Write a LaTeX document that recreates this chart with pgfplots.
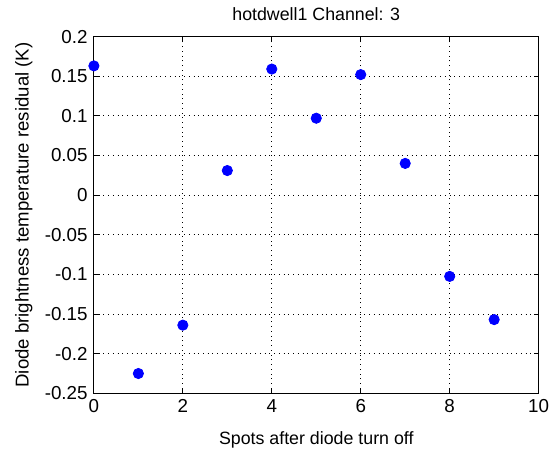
\documentclass[border=0pt]{standalone}
\usepackage{fontspec}
\setmainfont{Liberation Sans}
\usepackage{pgfplots}
\pgfplotsset{compat=1.18}

\begin{document}
\fontsize{9pt}{11pt}\selectfont
\begin{tikzpicture}
\begin{axis}[
    scale only axis,
    width=225pt, height=180.5pt,
    xmin=0, xmax=10, ymin=-0.25, ymax=0.2,
    xtick={0,2,...,10},
    ytick={-0.25,-0.2,-0.15,-0.1,-0.05,0,0.05,0.1,0.15,0.2},
    yticklabel style={/pgf/number format/fixed, /pgf/number format/precision=2},
    /pgf/number format/assume math mode=true,
    tick align=inside,
    major tick length=2.5pt,
    tick style={black, line width=0.4pt},
    axis line style={line width=0.6pt},
    grid=major,
    major grid style={black, dotted, line width=0.5pt},
    title={hotdwell1 Channel: 3},
    title style={yshift=-1pt},
    xlabel={Spots after diode turn off},
    ylabel={Diode brightness temperature residual (K)},
    xlabel style={yshift=-3pt},
    ylabel style={yshift=0pt, font=\fontsize{9.4pt}{11pt}\selectfont},
    tick label style={font=\fontsize{9.5pt}{11pt}\selectfont},
    title style={font=\fontsize{9pt}{11pt}\selectfont},
    xlabel style={font=\fontsize{9pt}{11pt}\selectfont},
]
\addplot[only marks, mark=*, mark size=2.6pt, color=blue, mark options={fill=blue, draw=blue}]
coordinates {
(0,0.163) (1,-0.225) (2,-0.164) (3,0.031) (4,0.159)
(5,0.097) (6,0.152) (7,0.040) (8,-0.1025) (9,-0.157)
};
\end{axis}
\path[use as bounding box] ([xshift=-47.5pt,yshift=-28.5pt]current axis.south west) rectangle ([xshift=5pt,yshift=18.5pt]current axis.north east);
\end{tikzpicture}
\end{document}
